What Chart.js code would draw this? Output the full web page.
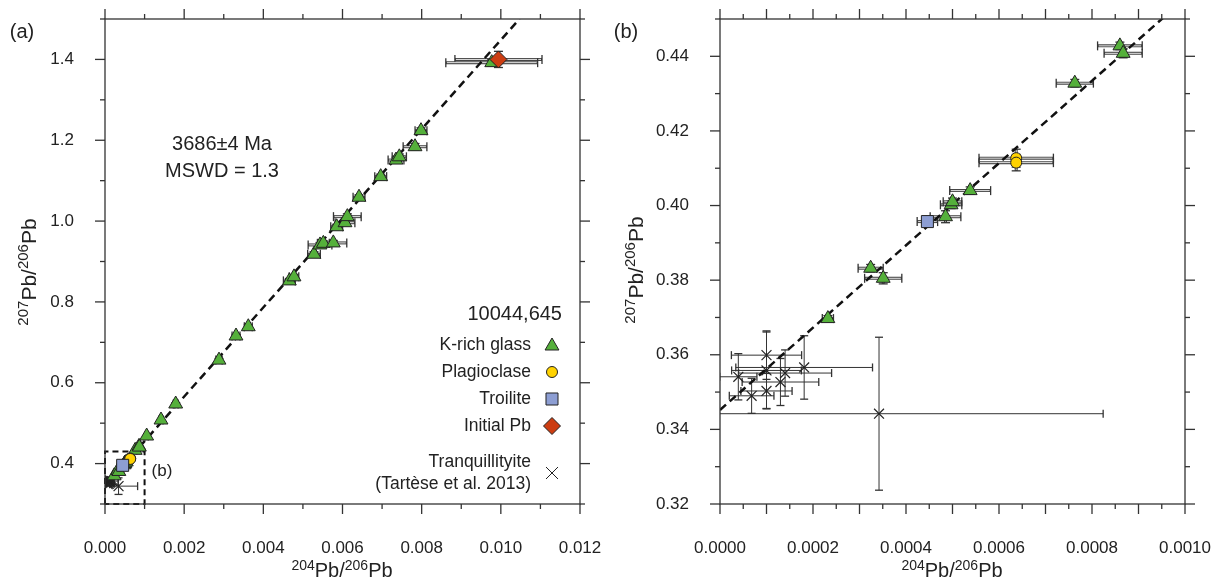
<!DOCTYPE html>
<html><head><meta charset="utf-8">
<script src="https://cdn.jsdelivr.net/npm/chart.js@4.4.1/dist/chart.umd.min.js"></script>
<style>
body{margin:0;background:#fff;width:1226px;height:581px;overflow:hidden;position:relative;font-family:"Liberation Sans",Arial,sans-serif;color:#222}
canvas{position:absolute;top:0}
.t{position:absolute;white-space:nowrap;line-height:1}
.c{transform:translate(-50%,-50%)}
.r{transform:translate(-50%,-50%) rotate(-90deg)}
.rt{transform:translateY(-50%);text-align:right}
.ax{font-size:20px}
.ax sup{font-size:14px;vertical-align:0;position:relative;top:-7px}
.ay{font-size:21px}
.ay sup{font-size:15px;vertical-align:0;position:relative;top:-8px}
</style></head><body>
<canvas id="ca" width="613" height="581" style="left:0"></canvas>
<canvas id="cb" width="613" height="581" style="left:613px"></canvas>

<div class="t c" style="left:22px;top:31px;font-size:20px">(a)</div>
<div class="t c" style="left:626px;top:31px;font-size:20px">(b)</div>
<div class="t r ay" style="left:28px;top:272px"><sup>207</sup>Pb/<sup>206</sup>Pb</div>
<div class="t r ay" style="left:635px;top:270px"><sup>207</sup>Pb/<sup>206</sup>Pb</div>
<div class="t c ax" style="left:342px;top:570px"><sup>204</sup>Pb/<sup>206</sup>Pb</div>
<div class="t c ax" style="left:952px;top:570px"><sup>204</sup>Pb/<sup>206</sup>Pb</div>
<div class="t c" style="left:222px;top:143px;font-size:20px">3686±4 Ma</div>
<div class="t c" style="left:222px;top:170px;font-size:20px">MSWD = 1.3</div>
<div class="t c" style="left:162px;top:470px;font-size:17px">(b)</div>
<div class="t rt" style="right:664px;top:313px;font-size:20px">10044,645</div>
<div class="t rt" style="right:695px;top:345px;font-size:17.5px">K-rich glass</div>
<div class="t rt" style="right:695px;top:372px;font-size:17.5px">Plagioclase</div>
<div class="t rt" style="right:695px;top:399px;font-size:17.5px">Troilite</div>
<div class="t rt" style="right:695px;top:426px;font-size:17.5px">Initial Pb</div>
<div class="t rt" style="right:695px;top:462px;font-size:17.5px">Tranquillityite</div>
<div class="t rt" style="right:695px;top:484px;font-size:17.5px">(Tartèse et al. 2013)</div>

<script>
// ---------- DATA ----------
// K-rich glass (204Pb/206Pb, 207Pb/206Pb) with 2-sigma errors
const glassX = [0.000232,0.000324,0.000351,0.000485,0.000497,0.000500,0.000538,0.000763,0.000860,0.000867,
  0.001053,0.001415,0.001786,0.00288,0.00331,0.00362,0.004657,0.004775,0.00528,0.005432,0.005516,0.005768,
  0.005853,0.006063,0.006122,0.006417,0.006965,0.007352,0.007435,0.007832,0.007983,0.00977];
const glassY = [0.3697,0.3832,0.3805,0.3970,0.4002,0.4010,0.4040,0.4328,0.4428,0.4408,
  0.4682,0.5078,0.5474,0.656,0.7157,0.7386,0.852,0.862,0.918,0.941,0.945,0.946,
  0.986,0.996,1.011,1.059,1.110,1.151,1.159,1.184,1.2237,1.392];
const glassXErr = [0.000012,0.000027,0.000040,0.000033,0.000023,0.000020,0.000044,0.000040,0.000048,0.000041,
  0.00004,0.00005,0.00006,0.00008,0.0001,0.0001,0.00015,0.00012,0.00016,0.0003,0.00015,0.00034,
  0.00015,0.00025,0.00035,0.00015,0.00015,0.0002,0.00018,0.0003,0.00015,0.00116];
const glassYErr = [0.0008,0.0010,0.0015,0.0016,0.0010,0.0010,0.0010,0.0010,0.0010,0.0012,
  0.002,0.002,0.003,0.004,0.004,0.005,0.006,0.006,0.006,0.006,0.006,0.006,
  0.006,0.006,0.007,0.006,0.006,0.007,0.007,0.008,0.007,0.008];
// Plagioclase
const plagX = [0.000637,0.000637];
const plagY = [0.4127,0.4115];
const plagXErr = [0.00008,0.00008];
const plagYErr = [0.0024,0.0022];
// Troilite
const troiX = [0.000446];
const troiY = [0.3957];
const troiXErr = [0.000022];
const troiYErr = [0.0008];
// Initial Pb
const initX = [0.00994];
const initY = [1.400];
const initXErr = [0.0011];
const initYErr = [0.02];
// Tranquillityite (Tartese et al. 2013)
const tranqX = [0.000100,0.0000394,0.000100,0.000140,0.000130,0.000181,0.000100,0.000068,0.000342];
const tranqY = [0.3599,0.3541,0.3558,0.3551,0.3527,0.3566,0.3503,0.3490,0.3442];
const tranqXErr = [0.0000755,0.000040,0.000075,0.000100,0.0000824,0.000147,0.000055,0.000048,0.000482];
const tranqYErr = [0.0065,0.0062,0.0103,0.0062,0.0063,0.0085,0.0047,0.0047,0.0205];
// Isochron (dashed) line end points
const fitX = [0, 0.01047];
const fitY = [0.3452, 1.5];
// Inset box of panel (b) drawn in panel (a)
const boxX = [0, 0, 0.001, 0.001, 0];
const boxY = [0.30, 0.43, 0.43, 0.30, 0.30];
// Axis ranges / tick steps
const axisA = {xmin:0, xmax:0.012, xstep:0.001, xlabel:0.002, xmajor:0.002, xdec:3,
               ymin:0.3, ymax:1.5, ystep:0.1, ylabel:0.2, ymajor:0.2, ydec:1};
const axisB = {xmin:0, xmax:0.001, xstep:0.00005, xlabel:0.0002, xmajor:0.0001, xdec:4,
               ymin:0.32, ymax:0.45, ystep:0.01, ylabel:0.02, ymajor:0.02, ydec:2};

// ---------- HELPERS ----------
const FONT = '"Liberation Sans", Arial, sans-serif';
function pts(xs, ys){ return xs.map((v,i)=>({x:v, y:ys[i]})); }
function near(v, step){ const q = v/step; return Math.abs(q - Math.round(q)) < 1e-6; }
const COL = {glass:'#55b03b', plag:'#ffd200', troi:'#8d9ed3', init:'#cc3d12', edge:'#222'};

const errorBarPlugin = {
  id:'errbars',
  beforeDatasetsDraw(chart){
    const {ctx, chartArea:a, scales:{x, y}} = chart;
    ctx.save();
    ctx.beginPath(); ctx.rect(a.left, a.top, a.right-a.left, a.bottom-a.top); ctx.clip();
    chart.data.datasets.forEach(ds => {
      if(!ds.xErr) return;
      ds.data.forEach((p,i) => {
        const px = x.getPixelForValue(p.x), py = y.getPixelForValue(p.y);
        const x0 = x.getPixelForValue(p.x - ds.xErr[i]), x1 = x.getPixelForValue(p.x + ds.xErr[i]);
        const y0 = y.getPixelForValue(p.y - ds.yErr[i]), y1 = y.getPixelForValue(p.y + ds.yErr[i]);
        const cap = ds.thinErr ? 4 : 4.5;
        const seg = (ax,ay,bx,by) => { ctx.beginPath(); ctx.moveTo(ax,ay); ctx.lineTo(bx,by); ctx.stroke(); };
        if(ds.thinErr){
          ctx.strokeStyle = '#333'; ctx.lineWidth = 1;
          seg(x0,py,x1,py); seg(px,y0,px,y1);
        } else {
          ctx.strokeStyle = '#444'; ctx.lineWidth = 3;
          seg(x0,py,x1,py); seg(px,y0,px,y1);
          ctx.strokeStyle = '#e6e6e6'; ctx.lineWidth = 1;
          seg(x0+1,py,x1-1,py); if(Math.abs(y1-y0)>3) seg(px,y0-1,px,y1+1);
        }
        ctx.strokeStyle = '#333'; ctx.lineWidth = 1.3;
        if(Math.abs(x1-x0) > 2){ seg(x0,py-cap,x0,py+cap); seg(x1,py-cap,x1,py+cap); }
        if(Math.abs(y1-y0) > 2){ seg(px-cap,y0,px+cap,y0); seg(px-cap,y1,px+cap,y1); }
      });
    });
    ctx.restore();
  }
};

const framePlugin = {
  id:'frame',
  afterDatasetsDraw(chart, args, opts){
    const {ctx, chartArea:a, scales:{x, y}} = chart;
    ctx.save();
    ctx.strokeStyle = '#333'; ctx.lineWidth = 1.3;
    ctx.strokeRect(a.left, a.top, a.right-a.left, a.bottom-a.top);
    const seg = (ax,ay,bx,by) => { ctx.beginPath(); ctx.moveTo(ax,ay); ctx.lineTo(bx,by); ctx.stroke(); };
    x.ticks.forEach(t => {
      const px = x.getPixelForValue(t.value);
      const L = near(t.value, opts.xMajor) ? 10 : 5;
      seg(px, a.bottom, px, a.bottom + L); seg(px, a.top, px, a.top - L);
    });
    y.ticks.forEach(t => {
      const py = y.getPixelForValue(t.value);
      const L = near(t.value, opts.yMajor) ? 10 : 5;
      seg(a.left, py, a.left - L, py); seg(a.right, py, a.right + L, py);
    });
    ctx.restore();
  }
};

function drawMarker(ctx, style, r, x, y, fill){
  ctx.beginPath();
  if(style==='triangle'){
    ctx.moveTo(x, y - r); ctx.lineTo(x + r*0.866, y + r/2); ctx.lineTo(x - r*0.866, y + r/2); ctx.closePath();
  } else if(style==='circle'){ ctx.arc(x, y, r, 0, Math.PI*2);
  } else if(style==='rect'){ const s = r*Math.SQRT1_2; ctx.rect(x-s, y-s, 2*s, 2*s);
  } else if(style==='rectRot'){ ctx.moveTo(x-r,y); ctx.lineTo(x,y-r); ctx.lineTo(x+r,y); ctx.lineTo(x,y+r); ctx.closePath();
  } else if(style==='crossRot'){ const s = r*Math.SQRT1_2; ctx.moveTo(x-s,y-s); ctx.lineTo(x+s,y+s); ctx.moveTo(x+s,y-s); ctx.lineTo(x-s,y+s); }
  if(fill){ ctx.fillStyle = fill; ctx.fill(); }
  ctx.stroke();
}

const legendPlugin = {
  id:'legendMarks',
  afterDraw(chart, args, opts){
    if(!opts.items) return;
    const ctx = chart.ctx;
    ctx.save(); ctx.strokeStyle = '#222'; ctx.lineWidth = 1;
    opts.items.forEach(it => drawMarker(ctx, it.style, it.r, it.x, it.y, it.fill));
    ctx.restore();
  }
};

function makeDatasets(withBox){
  const ds = [
    {label:'Initial Pb', data:pts(initX, initY), xErr:initXErr, yErr:initYErr,
     pointStyle:'rectRot', pointRadius:8.5, backgroundColor:COL.init, borderColor:COL.edge, borderWidth:1},
    {label:'Troilite', data:pts(troiX, troiY), xErr:troiXErr, yErr:troiYErr,
     pointStyle:'rect', pointRadius:8.5, backgroundColor:COL.troi, borderColor:COL.edge, borderWidth:1},
    {label:'Plagioclase', data:pts(plagX, plagY), xErr:plagXErr, yErr:plagYErr,
     pointStyle:'circle', pointRadius:5.5, backgroundColor:COL.plag, borderColor:COL.edge, borderWidth:1},
    {label:'K-rich glass', data:pts(glassX, glassY), xErr:glassXErr, yErr:glassYErr,
     pointStyle:'triangle', pointRadius:8, backgroundColor:COL.glass, borderColor:COL.edge, borderWidth:1},
    {label:'Tranquillityite', data:pts(tranqX, tranqY), xErr:tranqXErr, yErr:tranqYErr, thinErr:true,
     pointStyle:'crossRot', pointRadius:7, backgroundColor:'#222', borderColor:'#222', borderWidth:1.2},
  ];
  if(withBox) ds.push({label:'inset', type:'line', data:pts(boxX, boxY), showLine:true, pointRadius:0,
     borderColor:'#111', borderWidth:2, borderDash:[6,4], fill:false, clip:6, tension:0});
  ds.push({label:'isochron', type:'line', data:pts(fitX, fitY), showLine:true, pointRadius:0,
     borderColor:'#111', borderWidth:2.5, borderDash:[8,5], fill:false, tension:0});
  return ds;
}

function makeChart(id, ax, yWidth, padRight, withBox, legendItems){
  return new Chart(document.getElementById(id), {
    type:'scatter',
    data:{datasets:makeDatasets(withBox)},
    options:{
      responsive:false, devicePixelRatio:1, animation:false,
      layout:{padding:{left:0, top:19, right:padRight, bottom:0}},
      plugins:{legend:{display:false}, tooltip:{enabled:false},
        frame:{xMajor:ax.xmajor, yMajor:ax.ymajor},
        legendMarks:{items:legendItems}},
      elements:{point:{hoverRadius:0}},
      scales:{
        x:{type:'linear', min:ax.xmin, max:ax.xmax,
           afterFit:s=>{ s.height = 77; s.paddingLeft = 0; s.paddingRight = 0; },
           grid:{display:false}, border:{display:false},
           ticks:{stepSize:ax.xstep, autoSkip:false, maxRotation:0, minRotation:0, padding:26,
             color:'#222', font:{family:FONT, size:17},
             callback:v => near(v, ax.xlabel) ? Number(v).toFixed(ax.xdec) : ''}},
        y:{type:'linear', min:ax.ymin, max:ax.ymax,
           afterFit:s=>{ s.width = yWidth; s.paddingTop = 0; s.paddingBottom = 0; },
           grid:{display:false}, border:{display:false},
           ticks:{stepSize:ax.ystep, autoSkip:false, padding:23,
             color:'#222', font:{family:FONT, size:17},
             callback:v => near(v, ax.ylabel) ? Number(v).toFixed(ax.ydec) : ''}}
      }
    },
    plugins:[errorBarPlugin, framePlugin, legendPlugin]
  });
}

const legendItemsA = [
  {style:'triangle', r:8, x:552, y:346, fill:COL.glass},
  {style:'circle', r:5.5, x:552, y:372, fill:COL.plag},
  {style:'rect', r:8.5, x:552, y:399, fill:COL.troi},
  {style:'rectRot', r:8.5, x:552, y:426, fill:COL.init},
  {style:'crossRot', r:8.5, x:552, y:473, fill:null}
];
const chartA = makeChart('ca', axisA, 105, 33, true, legendItemsA);
const chartB = makeChart('cb', axisB, 107, 41, false, null);
</script>
</body></html>
